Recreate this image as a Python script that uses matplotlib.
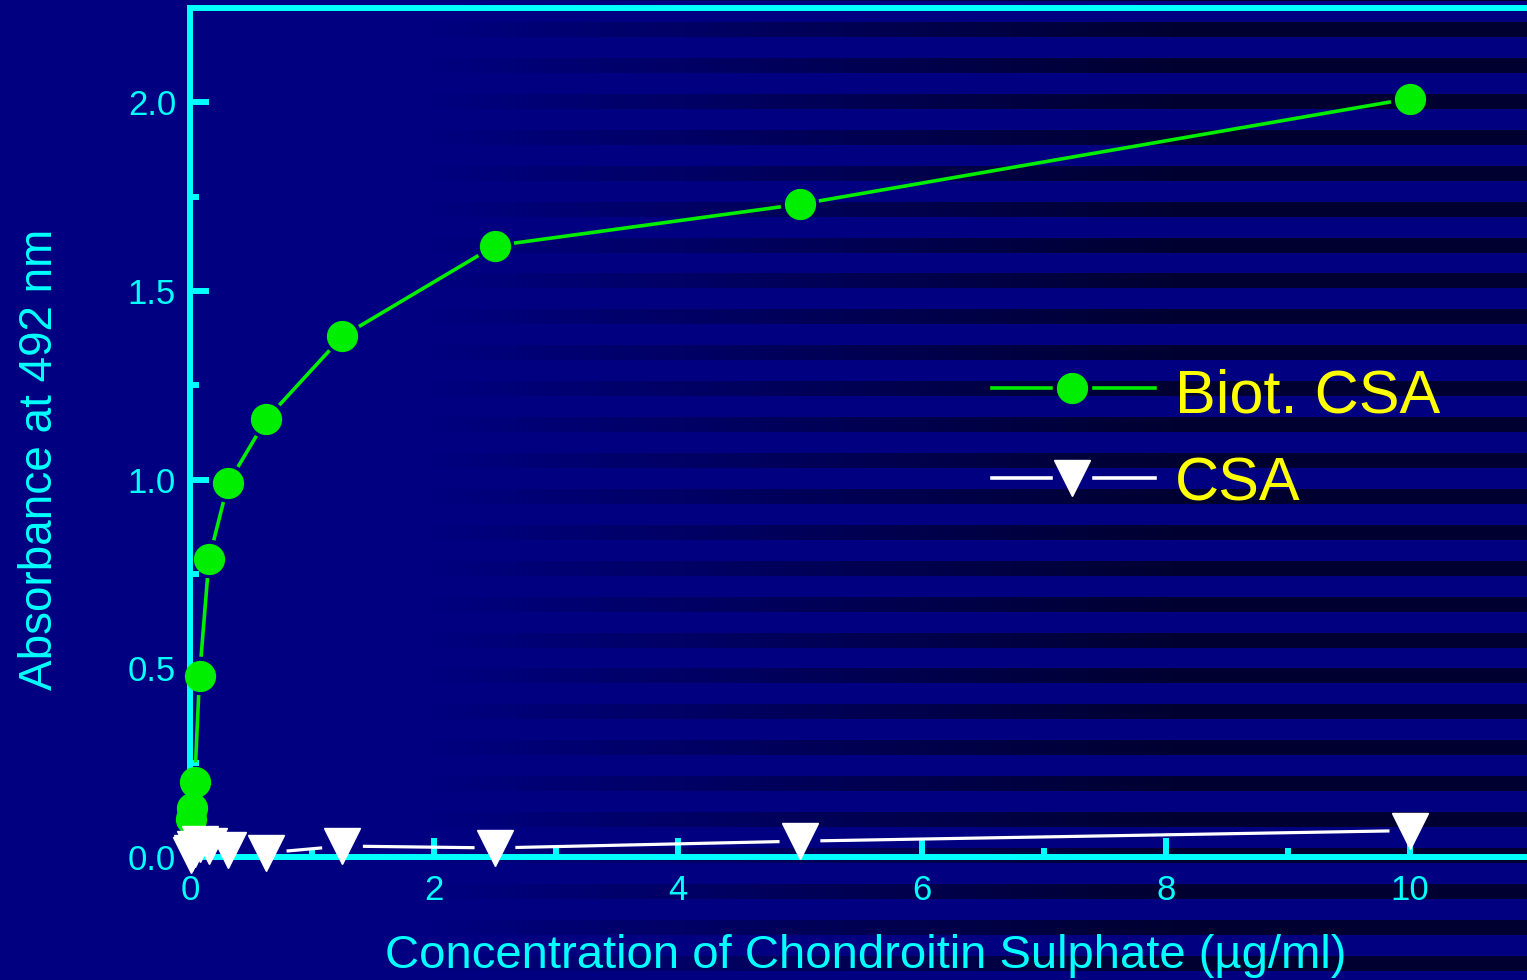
import matplotlib
matplotlib.use("Agg")
import matplotlib.pyplot as plt
import numpy as np
from matplotlib.lines import Line2D
from matplotlib.transforms import IdentityTransform

# dilution series (ug/ml) and absorbance readings at 492 nm
conc = [10, 5, 2.5, 1.25, 0.625, 0.3125, 0.156, 0.078, 0.039, 0.0195, 0.0098]
biot_csa = [2.01, 1.73, 1.62, 1.38, 1.16, 0.99, 0.79, 0.48, 0.20, 0.13, 0.10]
csa = [0.07, 0.042, 0.024, 0.029, 0.011, 0.019, 0.03, 0.035, 0.02, 0.01, 0.005]

xticks = [0, 2, 4, 6, 8, 10]
xticklabels = ["0", "2", "4", "6", "8", "10"]
yticks = [0.0, 0.5, 1.0, 1.5, 2.0]
yticklabels = ["0.0", "0.5", "1.0", "1.5", "2.0"]

CYAN = "#00ffff"
GREEN = "#00ee00"
YELLOW = "#ffff00"
FONT = ["Liberation Sans", "DejaVu Sans"]

W, H, DPI = 1527, 980, 100
fig = plt.figure(figsize=(W / DPI, H / DPI), dpi=DPI)

# striped navy backdrop, stripes fading in towards the right
rows = np.arange(H)
dark_rows = ((rows - 21.7) % 35.9) < 15
ramp = np.clip((np.arange(W) - 430) / 750.0, 0, 1)
base = np.array([0, 0, 128], float)
dark = np.array([0, 0, 48], float)
mix = dark_rows[:, None] * ramp[None, :]
img = base[None, None, :] + mix[:, :, None] * (dark - base)[None, None, :]
fig.figimage(img.astype(np.uint8), xo=0, yo=0, origin="upper", zorder=0)

left, bottom, top = 190 / W, 1 - 857 / H, 1 - 8 / H
ax = fig.add_axes([left, bottom, 1 - left, top - bottom], zorder=2)
ax.set_facecolor("none")
ax.set_xlim(0, 10.96)
ax.set_ylim(0, 2.25)

for side in ["left", "bottom", "top"]:
    ax.spines[side].set_color(CYAN)
    ax.spines[side].set_linewidth(4.3)
ax.spines["right"].set_visible(False)

ax.set_xticks(xticks, xticklabels)
ax.set_yticks(yticks, yticklabels)
ax.set_xticks([1, 3, 5, 7, 9], minor=True)
ax.set_yticks([0.25, 0.75, 1.25, 1.75], minor=True)
ax.tick_params(which="both", direction="in", color=CYAN, width=4.3,
               top=False, right=False)
ax.tick_params(which="major", length=14)
ax.tick_params(which="minor", length=6.5)
ax.tick_params(axis="x", which="major", pad=12, labelsize=25, labelcolor=CYAN)
ax.tick_params(axis="y", which="major", pad=10, labelsize=25, labelcolor=CYAN)
for lab in ax.get_xticklabels() + ax.get_yticklabels():
    lab.set_family(FONT)


def gapped(ax, xs, ys, gap, transform, **kw):
    # connect points with segments that stop short of each marker
    pts = transform.transform(np.column_stack([xs, ys]))
    for (x0, y0), (x1, y1) in zip(pts[:-1], pts[1:]):
        d = np.hypot(x1 - x0, y1 - y0)
        if d <= 2 * gap:
            continue
        ux, uy = (x1 - x0) / d, (y1 - y0) / d
        ax.add_line(Line2D([x0 + ux * gap, x1 - ux * gap],
                           [y0 + uy * gap, y1 - uy * gap],
                           transform=IdentityTransform(), clip_on=False, **kw))


gapped(ax, conc, biot_csa, 21, ax.transData, color=GREEN, lw=2.6, zorder=3)
ax.plot(conc, biot_csa, ls="none", marker="o", ms=21.5, color=GREEN,
        mec=GREEN, zorder=3, clip_on=False)
gapped(ax, conc, csa, 22, ax.transData, color="white", lw=2.3, zorder=4)
ax.plot(conc, csa, ls="none", marker="v", ms=26, color="white",
        mec="white", zorder=4, clip_on=False)


def fx(px):
    return (px - 190) / 1337


def fy(py):
    return (857 - py) / 849


# legend
for row, col, mk, ms in [(388, GREEN, "o", 21.5), (478, "white", "v", 26)]:
    for a, b in [(992, 1051), (1094, 1155)]:
        ax.plot([fx(a), fx(b)], [fy(row), fy(row)], color=col, lw=2.6,
                transform=ax.transAxes, zorder=5, clip_on=False)
    ax.plot([fx(1072)], [fy(row)], ls="none", marker=mk, ms=ms, color=col,
            mec=col, transform=ax.transAxes, zorder=5, clip_on=False)
ax.text(fx(1175), fy(412), "Biot. CSA", transform=ax.transAxes,
        color=YELLOW, fontsize=44, family=FONT, va="baseline", ha="left")
ax.text(fx(1175), fy(500), "CSA", transform=ax.transAxes,
        color=YELLOW, fontsize=44, family=FONT, va="baseline", ha="left")

fig.text(40 / W, 1 - 459 / H, "Absorbance at 492 nm", rotation=90,
         color=CYAN, fontsize=33, family=FONT, ha="center", va="center")
fig.text(866 / W, 1 - 968 / H, "Concentration of Chondroitin Sulphate (µg/ml)",
         color=CYAN, fontsize=34, family=FONT, ha="center", va="baseline")

fig.savefig("out.png", dpi=DPI)
